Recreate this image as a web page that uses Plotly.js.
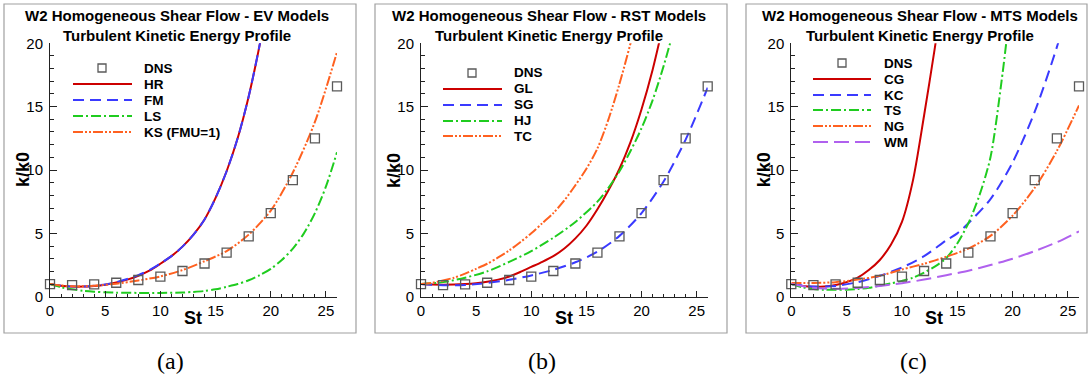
<!DOCTYPE html>
<html><head><meta charset="utf-8">
<script src="https://cdn.plot.ly/plotly-3.0.1.min.js"></script>
<style>html,body{margin:0;padding:0;background:#fff}#c{width:1089px;height:381px}</style>
</head><body><div id="c"></div>
<script>
// DNS reference data (same in every panel)
const DNS_St = [0,2,4,6,8,10,12,14,16,18,20,22,24,26];
const DNS_k  = [1.0,0.92,0.98,1.1,1.32,1.58,2.03,2.62,3.48,4.76,6.6,9.2,12.5,16.6];

// (a) EV models
const HR_St = [0,1,2,3,4,5,6,7,8,9,10,11,12,13,14,15,16,17,18,19,19.5];
const HR_k  = [1.0,0.86,0.8,0.8,0.85,0.95,1.12,1.35,1.65,2.05,2.6,3.2,3.95,4.9,6.1,7.8,9.9,12.5,15.8,19.9,22.3];
const FM_St = [0,1,2,3,4,5,6,7,8,9,10,11,12,13,14,15,16,17,18,19,19.5];
const FM_k  = [1.0,0.86,0.8,0.8,0.86,0.97,1.15,1.4,1.7,2.1,2.62,3.2,3.95,4.9,6.1,7.8,9.9,12.5,15.8,19.9,22.3];
const LS_St = [0,1,2,3,4,5,6,8,10,12,13,14,15,16,17,18,19,20,21,22,23,24,25,26];
const LS_k  = [1.0,0.75,0.58,0.47,0.4,0.35,0.32,0.3,0.3,0.33,0.38,0.45,0.58,0.78,1.0,1.3,1.7,2.2,2.9,3.8,5.0,6.6,8.7,11.4];
const KS_St = [0,1,2,3,4,6,8,10,12,14,16,18,20,22,24,26];
const KS_k  = [1.0,0.88,0.82,0.82,0.87,1.03,1.28,1.6,2.1,2.8,3.6,4.9,6.8,9.8,13.8,19.3];

// (b) RST models
const GL_St = [0,1,2,3,4,5,6,7,8,9,10,11,12,13,14,15,16,17,18,19,20,21,22];
const GL_k  = [1.0,0.96,0.95,0.96,1.0,1.07,1.18,1.35,1.6,1.95,2.35,2.75,3.2,3.8,4.6,5.6,6.9,8.4,10.1,12.2,14.8,17.9,21.6];
const SG_St = [0,2,4,6,8,10,12,14,16,18,20,22,24,26];
const SG_k  = [1.0,0.9,0.93,1.08,1.33,1.68,2.12,2.72,3.55,4.8,6.6,9.1,12.4,16.5];
const HJ_St = [0,2,4,6,8,10,12,14,16,17,18,19,20,21,22,23];
const HJ_k  = [1.0,1.15,1.5,2.0,2.75,3.6,4.65,5.9,7.5,8.6,9.9,11.5,13.3,15.5,18.2,21.3];
const TC_St = [0,1,2,3,4,5,6,7,8,9,10,11,12,13,14,15,16,17,18,19,20];
const TC_k  = [1.0,1.1,1.28,1.5,1.82,2.2,2.6,3.1,3.65,4.3,5.0,5.8,6.6,7.6,8.8,10.1,11.7,14.0,16.8,20.0,23.5];

// (c) MTS models
const CG_St = [0,1,2,3,4,5,6,7,8,9,10,11,12,13,13.5];
const CG_k  = [1.0,0.85,0.78,0.8,0.92,1.15,1.5,2.1,2.9,4.1,5.9,9.2,14.3,19.8,22.8];
const KC_St = [0,2,4,6,8,10,12,14,15,16,18,20,22,24,25];
const KC_k  = [1.0,0.8,0.85,1.15,1.65,2.3,3.2,4.45,5.0,5.8,7.7,10.6,14.6,19.7,22.8];
const TS_St = [0,1,2,3,4,5,6,7,8,9,10,11,12,13,14,15,16,17,18,19,19.5];
const TS_k  = [1.0,0.75,0.6,0.55,0.54,0.55,0.6,0.7,0.88,1.05,1.25,1.5,1.9,2.4,3.05,4.2,5.8,8.0,11.0,17.0,20.6];
const NG_St = [0,2,4,6,8,10,12,14,16,18,20,22,24,26];
const NG_k  = [1.08,1.08,1.15,1.35,1.65,2.15,2.6,3.15,3.8,4.8,6.4,8.6,11.5,15.1];
const WM_St = [0,2,4,6,8,10,12,14,16,18,20,22,24,26];
const WM_k  = [1.0,0.7,0.62,0.68,0.85,1.07,1.35,1.7,2.05,2.5,3.0,3.6,4.3,5.15];

const panelTitles = ["W2 Homogeneous Shear Flow - EV Models","W2 Homogeneous Shear Flow - RST Models","W2 Homogeneous Shear Flow - MTS Models"];
const subTitle = "Turbulent Kinetic Energy Profile";
const captions = ["(a)","(b)","(c)"];
const legendNames = [["DNS","HR","FM","LS","KS (FMU=1)"],["DNS","GL","SG","HJ","TC"],["DNS","CG","KC","TS","NG","WM"]];

// styles
const RED='#cc0000', BLUE='#3a3aff', GREEN='#1fcc1f', ORANGE='#ff6120', PURPLE='#b061ee';
const SOLID='solid', DASH='11px,6px', DASHDOT='10px,3px,2px,3px', DASHDOT2='10px,2px,2px,2px,2px,2px', LONGDASH='15px,6px';

const W=1089, H=381;
const X=p=>p/W, Y=p=>1-p/H;

const panels = [
  {x0:50, x1:337, frame:[4,356], tc:177, cap:170, leg:{mx:102, l0:73, l1:132, tx:142, rows:[68,84,100,116,132]}},
  {x0:421, x1:707.7, frame:[375,727], tc:549, cap:542, leg:{mx:472, l0:443, l1:502, tx:512, rows:[73,89,105,121,136]}},
  {x0:791.3, x1:1079, frame:[746,1087], tc:920, cap:913, leg:{mx:842, l0:813, l1:871, tx:882, rows:[63,79,95,110,126,142]}}
];
const yTop=43.3, yBot=296.7;

const series = [
  [[HR_St,HR_k,RED,SOLID],[FM_St,FM_k,BLUE,DASH],[LS_St,LS_k,GREEN,DASHDOT],[KS_St,KS_k,ORANGE,DASHDOT2]],
  [[GL_St,GL_k,RED,SOLID],[SG_St,SG_k,BLUE,DASH],[HJ_St,HJ_k,GREEN,DASHDOT],[TC_St,TC_k,ORANGE,DASHDOT2]],
  [[CG_St,CG_k,RED,SOLID],[KC_St,KC_k,BLUE,DASH],[TS_St,TS_k,GREEN,DASHDOT],[NG_St,NG_k,ORANGE,DASHDOT2],[WM_St,WM_k,PURPLE,LONGDASH]]
];

const FONT='"Liberation Sans", Arial, Helvetica, sans-serif';
const data=[], shapes=[], annotations=[];
const layout={width:W,height:H,margin:{l:0,r:0,t:0,b:0},paper_bgcolor:'#fff',plot_bgcolor:'rgba(0,0,0,0)',showlegend:false,font:{family:FONT,color:'#000'}};

panels.forEach((p,i)=>{
  const sfx = i===0?'':String(i+1);
  const xa='x'+sfx, ya='y'+sfx;
  series[i].forEach(s=>{
    data.push({x:s[0],y:s[1],type:'scatter',mode:'lines',xaxis:xa,yaxis:ya,
      line:{color:s[2],width:2,dash:s[3],shape:'spline',smoothing:0.8},hoverinfo:'skip'});
  });
  data.push({x:DNS_St,y:DNS_k,type:'scatter',mode:'markers',xaxis:xa,yaxis:ya,cliponaxis:false,
    marker:{symbol:'square-open',size:9,color:'#5a5a5a',line:{width:1.3,color:'#5a5a5a'}},hoverinfo:'skip'});
  const common={showgrid:false,zeroline:false,showline:true,linecolor:'#222',linewidth:1,
    ticks:'inside',tickcolor:'#222',tickfont:{size:15,family:FONT,color:'#000'},mirror:false,fixedrange:true};
  layout['xaxis'+sfx]=Object.assign({},common,{domain:[X(p.x0),X(p.x1)],range:[0,26],anchor:ya,
    tickvals:[0,5,10,15,20,25],ticklen:6,minor:{dtick:1,ticklen:3,ticks:'inside',tickcolor:'#222'}});
  layout['yaxis'+sfx]=Object.assign({},common,{domain:[Y(yBot),Y(yTop)],range:[0,20],anchor:xa,
    tickvals:[0,5,10,15,20],ticklen:7,ticklabelstandoff:3,minor:{dtick:1,ticklen:4,ticks:'inside',tickcolor:'#222'}});
  // frame
  shapes.push({type:'rect',xref:'paper',yref:'paper',x0:X(p.frame[0]),x1:X(p.frame[1]),y0:Y(333),y1:Y(4),line:{color:'#a0a0a0',width:1.2}});
  // two-line title
  annotations.push({xref:'paper',yref:'paper',x:X(p.tc),y:Y(25.5),text:'<b>'+panelTitles[i]+'</b><br><b>'+subTitle+'</b>',showarrow:false,xanchor:'center',yanchor:'middle',align:'center',font:{size:15,family:FONT}});
  // axis titles
  annotations.push({xref:'paper',yref:'paper',x:X(p.x0-27),y:Y(170),text:'<b>k/k0</b>',textangle:-90,showarrow:false,xanchor:'center',yanchor:'middle',font:{size:18,family:FONT}});
  annotations.push({xref:'paper',yref:'paper',x:X(p.x0+143),y:Y(318),text:'<b>St</b>',showarrow:false,xanchor:'center',yanchor:'middle',font:{size:18,family:FONT}});
  // caption
  annotations.push({xref:'paper',yref:'paper',x:X(p.cap),y:Y(361),text:captions[i],showarrow:false,xanchor:'center',yanchor:'middle',font:{size:24,family:'"Liberation Serif","DejaVu Serif",serif'}});
  // legend
  const L=p.leg;
  shapes.push({type:'rect',xref:'paper',yref:'paper',x0:X(L.mx-4),x1:X(L.mx+4),y0:Y(L.rows[0]+4),y1:Y(L.rows[0]-4),line:{color:'#5a5a5a',width:1.3}});
  legendNames[i].forEach((n,j)=>{
    annotations.push({xref:'paper',yref:'paper',x:X(L.tx),y:Y(L.rows[j]),text:'<b>'+n+'</b>',showarrow:false,xanchor:'left',yanchor:'middle',font:{size:13.5,family:FONT}});
    if(j>0){
      const s=series[i][j-1];
      shapes.push({type:'line',xref:'paper',yref:'paper',x0:X(L.l0),x1:X(L.l1),y0:Y(L.rows[j]),y1:Y(L.rows[j]),line:{color:s[2],width:2,dash:s[3]}});
    }
  });
});
layout.shapes=shapes; layout.annotations=annotations;
Plotly.newPlot('c',data,layout,{staticPlot:true,displayModeBar:false});
</script></body></html>
